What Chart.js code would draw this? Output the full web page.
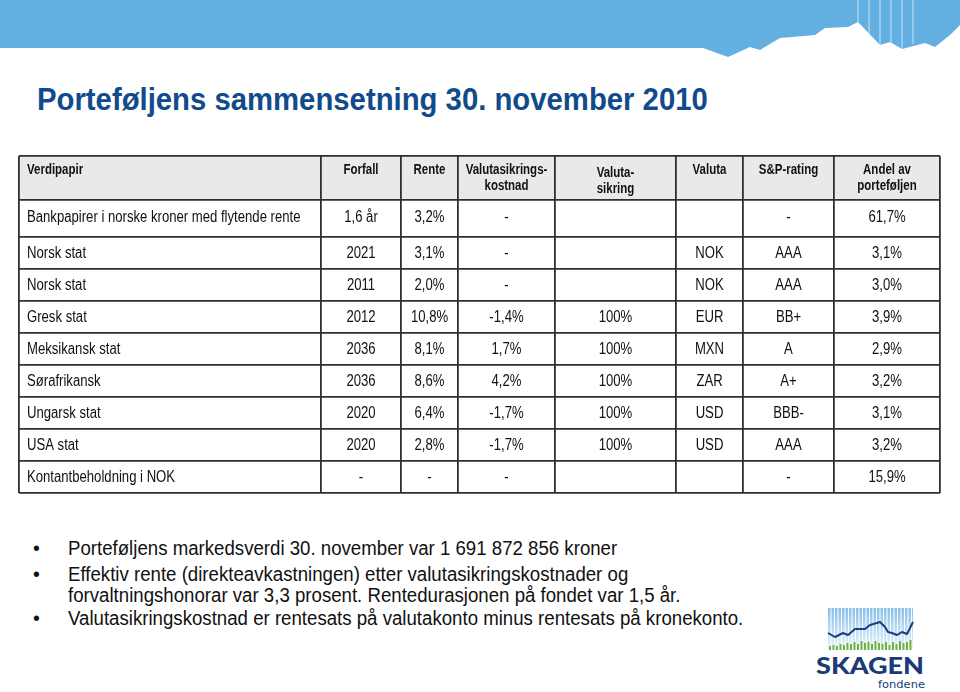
<!DOCTYPE html>
<html lang="no">
<head>
<meta charset="utf-8">
<title>Porteføljens sammensetning 30. november 2010</title>
<script src="https://cdn.jsdelivr.net/npm/chart.js@4.4.1/dist/chart.umd.min.js"></script>
<style>
  html, body { margin: 0; padding: 0; background: #fff; }
  body { width: 960px; height: 692px; position: relative; overflow: hidden;
         font-family: "Liberation Sans", Arial, Helvetica, sans-serif; }
  #banner { position: absolute; left: 0; top: 0; }
  h1 { position: absolute; left: 37px; top: 82px; margin: 0; font-size: 31px; font-weight: bold;
       color: #114b8c; white-space: nowrap; line-height: 36px;
       transform: scaleX(0.945); transform-origin: left center; }
  #tableWrap { position: absolute; left: 17px; top: 154px; width: 925px; height: 341px; }
  .bullet { position: absolute; left: 0; font-size: 19.5px; color: #111; line-height: 24px; white-space: nowrap; }
  .bullet .dot { position: absolute; left: 33px; }
  .bullet .txt { position: absolute; left: 68px; transform: scaleX(0.956); transform-origin: left center; }
  #logo { position: absolute; left: 800px; top: 600px; }
</style>
</head>
<body>
<svg id="banner" width="960" height="60">
  <path fill="#64afe2" d="M0,0 H960 V25 L950,35 L935,47 L925,43 L902,49 L890,42 L880,45 L858,22 L848,27 L825,28 L815,35 L780,38 L760,50 L750,47 L728,57 L703,48 L0,48 Z"/>
  <g stroke="rgba(255,255,255,0.55)" stroke-width="1.2">
    <line x1="858" y1="0" x2="858" y2="22"/>
    <line x1="869" y1="0" x2="869" y2="34"/>
    <line x1="880" y1="0" x2="880" y2="45"/>
    <line x1="891" y1="0" x2="891" y2="42"/>
    <line x1="902" y1="0" x2="902" y2="49"/>
    <line x1="913" y1="0" x2="913" y2="44"/>
  </g>
</svg>

<h1>Porteføljens sammensetning 30. november 2010</h1>

<div id="tableWrap"><canvas id="portfolio" width="925" height="341"></canvas></div>

<div class="bullet" style="top:536px"><span class="dot">•</span><span class="txt">Porteføljens markedsverdi 30. november var 1 691 872 856 kroner</span></div>
<div class="bullet" style="top:562px"><span class="dot">•</span><span class="txt">Effektiv rente (direkteavkastningen) etter valutasikringskostnader og</span></div>
<div class="bullet" style="top:583px"><span class="txt">forvaltningshonorar var 3,3 prosent. Rentedurasjonen på fondet var 1,5 år.</span></div>
<div class="bullet" style="top:606px"><span class="dot">•</span><span class="txt">Valutasikringskostnad er rentesats på valutakonto minus rentesats på kronekonto.</span></div>

<svg id="logo" width="140" height="92">
  <defs>
    <linearGradient id="sky" x1="0" y1="0" x2="0" y2="1">
      <stop offset="0" stop-color="#86bfe9"/>
      <stop offset="1" stop-color="#eef6fc"/>
    </linearGradient>
  </defs>
  <rect x="28" y="8" width="85" height="42" fill="url(#sky)"/>
  <g stroke="#fff" stroke-width="1">
    <line x1="31" y1="8" x2="31" y2="50"/><line x1="34.5" y1="8" x2="34.5" y2="50"/>
    <line x1="38" y1="8" x2="38" y2="50"/><line x1="41.5" y1="8" x2="41.5" y2="50"/>
    <line x1="45" y1="8" x2="45" y2="50"/><line x1="48.5" y1="8" x2="48.5" y2="50"/>
    <line x1="52" y1="8" x2="52" y2="50"/><line x1="55.5" y1="8" x2="55.5" y2="50"/>
    <line x1="59" y1="8" x2="59" y2="50"/><line x1="62.5" y1="8" x2="62.5" y2="50"/>
    <line x1="66" y1="8" x2="66" y2="50"/><line x1="69.5" y1="8" x2="69.5" y2="50"/>
    <line x1="73" y1="8" x2="73" y2="50"/><line x1="76.5" y1="8" x2="76.5" y2="50"/>
    <line x1="80" y1="8" x2="80" y2="50"/><line x1="83.5" y1="8" x2="83.5" y2="50"/>
    <line x1="87" y1="8" x2="87" y2="50"/><line x1="90.5" y1="8" x2="90.5" y2="50"/>
    <line x1="94" y1="8" x2="94" y2="50"/><line x1="97.5" y1="8" x2="97.5" y2="50"/>
    <line x1="101" y1="8" x2="101" y2="50"/><line x1="104.5" y1="8" x2="104.5" y2="50"/>
    <line x1="108" y1="8" x2="108" y2="50"/><line x1="111.5" y1="8" x2="111.5" y2="50"/>
  </g>
  <g fill="#6cb33f">
    <rect x="29" y="46" width="2" height="4"/><rect x="32.5" y="45" width="2" height="5"/>
    <rect x="36" y="46" width="2" height="4"/><rect x="39.5" y="44" width="2" height="6"/>
    <rect x="43" y="45" width="2" height="5"/><rect x="46.5" y="43" width="2" height="7"/>
    <rect x="50" y="44" width="2" height="6"/><rect x="53.5" y="42" width="2" height="8"/>
    <rect x="57" y="44" width="2" height="6"/><rect x="60.5" y="41" width="2" height="9"/>
    <rect x="64" y="43" width="2" height="7"/><rect x="67.5" y="42" width="2" height="8"/>
    <rect x="71" y="44" width="2" height="6"/><rect x="74.5" y="41" width="2" height="9"/>
    <rect x="78" y="43" width="2" height="7"/><rect x="81.5" y="44" width="2" height="6"/>
    <rect x="85" y="42" width="2" height="8"/><rect x="88.5" y="45" width="2" height="5"/>
    <rect x="92" y="42" width="2" height="8"/><rect x="95.5" y="44" width="2" height="6"/>
    <rect x="99" y="41" width="2" height="9"/><rect x="102.5" y="43" width="2" height="7"/>
    <rect x="106" y="42" width="2" height="8"/><rect x="109.5" y="40" width="2" height="10"/>
  </g>
  <polyline fill="none" stroke="#1a3f7a" stroke-width="2" stroke-linejoin="round"
    points="28,33 35,37 43,33 48,35 55,29 65,29 70,25 80,22 85,27 88,32 92,33 97,35 102,32 107,34 110,28 113,22"/>
  <text x="16" y="74" textLength="108" lengthAdjust="spacingAndGlyphs" font-family="Lato, 'DejaVu Sans', sans-serif" font-weight="900" font-size="22" fill="#1b3b78">SKAGEN</text>
  <text x="78" y="88" textLength="47" lengthAdjust="spacingAndGlyphs" font-family="'DejaVu Sans', sans-serif" font-size="11" fill="#1b3b78">fondene</text>
</svg>

<script>
// column headers (each entry = lines of text)
const headers = [
  ["Verdipapir"], ["Forfall"], ["Rente"], ["Valutasikrings-", "kostnad"],
  ["Valuta-", "sikring"], ["Valuta"], ["S&P-rating"], ["Andel av", "porteføljen"]
];

// table data, one array per column
const securities = [
  "Bankpapirer i norske kroner med flytende rente", "Norsk stat", "Norsk stat", "Gresk stat",
  "Meksikansk stat", "Sørafrikansk", "Ungarsk stat", "USA stat", "Kontantbeholdning i NOK"
];
const maturity = ["1,6 år", "2021", "2011", "2012", "2036", "2036", "2020", "2020", "-"];
const rate = ["3,2%", "3,1%", "2,0%", "10,8%", "8,1%", "8,6%", "6,4%", "2,8%", "-"];
const hedgeCost = ["-", "-", "-", "-1,4%", "1,7%", "4,2%", "-1,7%", "-1,7%", "-"];
const hedged = ["", "", "", "100%", "100%", "100%", "100%", "100%", ""];
const currency = ["", "NOK", "NOK", "EUR", "MXN", "ZAR", "USD", "USD", ""];
const rating = ["-", "AAA", "AAA", "BB+", "A", "A+", "BBB-", "AAA", "-"];
const share = ["61,7%", "3,1%", "3,0%", "3,9%", "2,9%", "3,2%", "3,1%", "3,2%", "15,9%"];

// layout (px units along the scales)
const colWidths = [302, 80, 57, 97, 121, 67, 91, 106];
const rowHeights = [44, 37, 32, 32, 32, 32, 32, 32, 32, 32];

const columns = [securities, maturity, rate, hedgeCost, hedged, currency, rating, share];

const cumulative = arr => arr.reduce((acc, w) => { acc.push(acc[acc.length - 1] + w); return acc; }, [0]);
const colEdges = cumulative(colWidths);
const rowEdges = cumulative(rowHeights);

const FONT = '"Liberation Sans", Arial, sans-serif';
const NARROW = 0.82; // no narrow face installed, squeeze the regular one
const LINE = "#2f2f2f";

// draw condensed text at (px, py)
function narrowText(ctx, t, px, py, align) {
  ctx.save();
  ctx.translate(px, py);
  ctx.scale(NARROW, 1);
  ctx.textAlign = align;
  ctx.fillText(t, 0, 0);
  ctx.restore();
}

// =========================
// CELL TEXT + HEADER SHADE
// =========================
const tablePlugin = {
  id: "tableCells",
  beforeDraw(chart) {
    const { ctx, scales: { x, y } } = chart;
    ctx.save();
    ctx.fillStyle = "#e9e9e9";
    const top = y.getPixelForValue(rowEdges[0]);
    const bottom = y.getPixelForValue(rowEdges[1]);
    ctx.fillRect(x.getPixelForValue(0), top, x.getPixelForValue(colEdges[colEdges.length - 1]) - x.getPixelForValue(0), bottom - top);
    ctx.restore();
  },
  afterDraw(chart) {
    const { ctx, scales: { x, y } } = chart;
    ctx.save();
    ctx.fillStyle = "#111";
    ctx.textBaseline = "middle";

    // header
    ctx.font = "bold 14px " + FONT;
    headers.forEach((lines, c) => {
      const left = x.getPixelForValue(colEdges[c]);
      const right = x.getPixelForValue(colEdges[c + 1]);
      const dy = c === 4 ? 3 : 0;
      lines.forEach((t, i) => {
        const yy = y.getPixelForValue(rowEdges[0]) + 14 + dy + i * 16;
        if (c === 0) narrowText(ctx, t, left + 8, yy, "left");
        else narrowText(ctx, t, (left + right) / 2, yy, "center");
      });
    });

    // body
    ctx.font = "16px " + FONT;
    securities.forEach((_, r) => {
      const yy = (y.getPixelForValue(rowEdges[r + 1]) + y.getPixelForValue(rowEdges[r + 2])) / 2 + (r === 0 ? -1 : 1);
      columns.forEach((col, c) => {
        const t = col[r];
        if (!t) return;
        const left = x.getPixelForValue(colEdges[c]);
        const right = x.getPixelForValue(colEdges[c + 1]);
        if (c === 0) narrowText(ctx, t, left + 8, yy, "left");
        else narrowText(ctx, t, (left + right) / 2, yy, "center");
      });
    });
    ctx.restore();
  }
};

function build() {
  const ctx = document.getElementById("portfolio").getContext("2d");
  new Chart(ctx, {
    type: "scatter",
    data: { datasets: [{ data: [] }] },
    options: {
      responsive: false,
      animation: false,
      layout: { padding: 2 },
      plugins: { legend: { display: false }, tooltip: { enabled: false } },
      scales: {
        x: {
          type: "linear", min: 0, max: colEdges[colEdges.length - 1],
          afterBuildTicks: s => { s.ticks = colEdges.map(v => ({ value: v })); },
          ticks: { display: false },
          grid: { color: LINE, lineWidth: 1.8, drawTicks: false },
          border: { display: false }
        },
        y: {
          type: "linear", reverse: true, min: 0, max: rowEdges[rowEdges.length - 1],
          afterBuildTicks: s => { s.ticks = rowEdges.map(v => ({ value: v })); },
          ticks: { display: false },
          grid: { color: LINE, lineWidth: 1.8, drawTicks: false },
          border: { display: false }
        }
      }
    },
    plugins: [tablePlugin]
  });
}

if (document.fonts && document.fonts.load) {
  Promise.all([
    document.fonts.load("16px " + FONT),
    document.fonts.load("bold 14px " + FONT)
  ]).then(build, build);
} else {
  build();
}
</script>
</body>
</html>
